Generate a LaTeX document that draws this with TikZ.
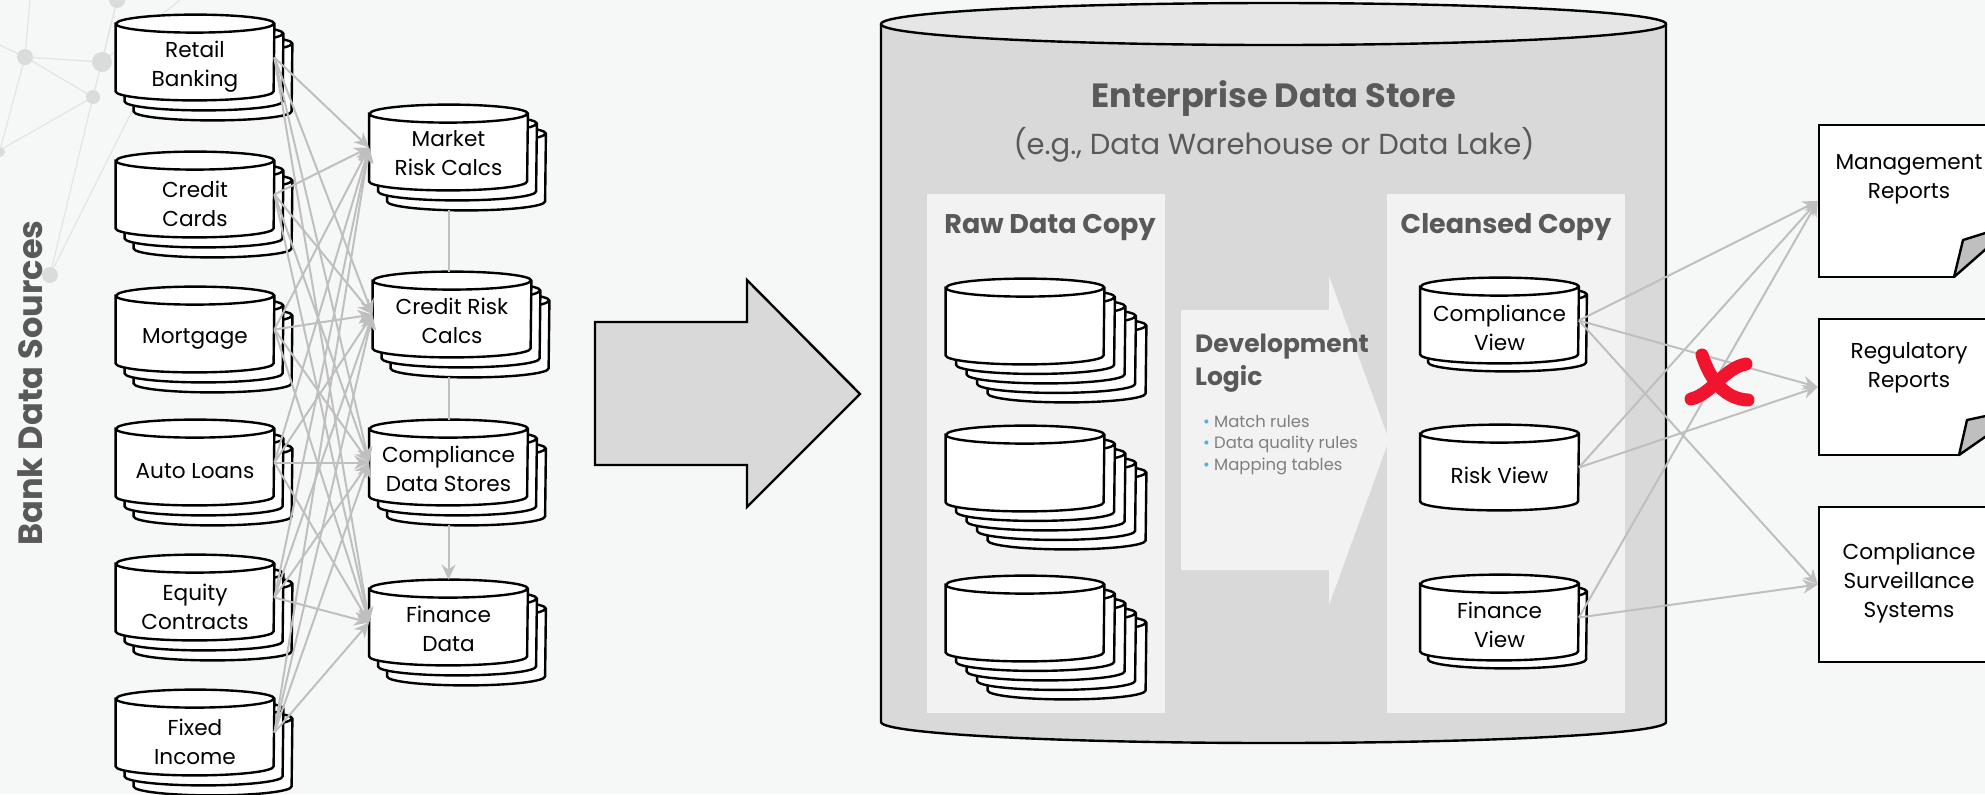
\documentclass[tikz,border=0pt]{standalone}
\usepackage{fontspec}
\setmainfont{Poppins}
\usetikzlibrary{arrows.meta}

\definecolor{pagebg}{HTML}{F6F8F7}
\definecolor{storegray}{HTML}{D9D9D9}
\definecolor{storetop}{HTML}{E6E6E6}
\definecolor{panelgray}{HTML}{F2F2F2}
\definecolor{headgray}{HTML}{595959}
\definecolor{notegray}{HTML}{7F7F7F}
\definecolor{linkgray}{HTML}{BFBFBF}
\definecolor{netgray}{HTML}{E3E5E4}
\definecolor{dotgray}{HTML}{DADCDB}
\definecolor{bulletblue}{HTML}{4FB3DC}
\definecolor{crossred}{HTML}{F0142F}

\tikzset{
  dbbox/.style={rectangle, minimum width=79pt, minimum height=42.5pt, inner sep=0pt},
  dbline/.style={draw, fill=white, line width=1.2pt},
  dbtext/.style={align=center, font=\fontsize{10.8}{14.5}\selectfont, inner sep=0pt},
  link/.style={draw=linkgray, line width=1pt, -{Stealth[length=7.5pt,width=7pt]}},
  plain/.style={draw=linkgray, line width=1pt},
  doc/.style={draw, fill=white, line width=1.2pt, minimum width=90.5pt, inner sep=0pt},
  fold/.style={draw, fill=linkgray, line width=1.2pt, line join=round},
  head/.style={font=\bfseries\fontsize{13.5}{16}\selectfont, text=headgray, inner sep=0pt},
}

% cylinder outline round a named dbbox node
\newcommand\dbshape[1]{%
  \draw[dbline] ([yshift=-4.5pt]#1.north west) -- ([yshift=4.5pt]#1.south west)
    arc[start angle=180, end angle=360, x radius=39.5pt, y radius=4.5pt]
    -- ([yshift=-4.5pt]#1.north east)
    arc[start angle=0, end angle=180, x radius=39.5pt, y radius=4.5pt] -- cycle
    ([yshift=-4.5pt]#1.north west) arc[start angle=180, end angle=360, x radius=39.5pt, y radius=4.5pt];}

\begin{document}
\begin{tikzpicture}[x=0.5pt,y=-0.5pt]
  \useasboundingbox (0,0) rectangle (1985,794);
  \clip (0,0) rectangle (1985,794);
  \fill[pagebg] (0,0) rectangle (1985,794);

  % faint network in the corner
  \begin{scope}[draw=netgray, line width=0.6pt]
    \draw (0,45) -- (25,57) -- (102,62) -- (180,0);
    \draw (30,0) -- (25,57) -- (93,97) -- (117,0);
    \draw (25,57) -- (0,150) -- (93,97) -- (50,275);
    \draw (117,0) -- (102,62);
    \draw (135,105) -- (50,275);
  \end{scope}
  \foreach \x/\y/\r in {25/57/8, 102/62/10, 93/97/7, 117/0/8, 0/152/5, 50/275/8}
    \fill[dotgray] (\x,\y) circle[radius=\r];

  \node[rotate=90, font=\bfseries\fontsize{16.8}{18}\selectfont, text=headgray] (bds) at (30,383) {Bank Data Sources};

  % source systems
  \foreach \nm/\y/\txt in {rb/57.5/{Retail\\Banking}, cc/194.5/{Credit\\Cards}, mo/329.5/Mortgage,
      al/462.5/Auto Loans, ec/597.5/{Equity\\Contracts}, fi/732.5/{Fixed\\Income}}{
    \node[dbbox] (\nm-2) at (213,\y+20) {}; \dbshape{\nm-2}
    \node[dbbox] (\nm-1) at (204,\y+10) {}; \dbshape{\nm-1}
    \node[dbbox] (\nm) at (195,\y) {}; \dbshape{\nm}
    \node[dbtext] (\nm-t) at (195,\y+9) {\txt};
  }

  % downstream stores
  \foreach \nm/\x/\y/\txt in {mr/448.5/147.5/{Market\\Risk Calcs}, cr/452/314.5/{Credit Risk\\Calcs},
      cd/448.5/462.5/{Compliance\\Data Stores}, fd/448.5/622.5/{Finance\\Data}}{
    \node[dbbox] (\nm-2) at (\x+18,\y+20) {}; \dbshape{\nm-2}
    \node[dbbox] (\nm-1) at (\x+9,\y+10) {}; \dbshape{\nm-1}
    \node[dbbox] (\nm) at (\x,\y) {}; \dbshape{\nm}
    \node[dbtext] (\nm-t) at (\x,\y+6) {\txt};
  }

  \foreach \s in {rb,cc,mo,al,ec,fi}
    \foreach \t in {mr,cr,cd,fd}
      \draw[link] (\s.east) -- (\t.west);
  \draw[plain] (mr.south |- mr-2.south) -- (mr.south |- cr.north);
  \draw[plain] (mr.south |- cr-2.south) -- (mr.south |- cd.north);
  \draw[link] (cd.south |- cd-2.south) -- (fd.north);

  % big arrow
  \draw[fill=storegray, line width=1.2pt] (595,322) -- (747,322) -- (747,280) -- (860,394)
    -- (747,507) -- (747,465) -- (595,465) -- cycle;

  % enterprise store
  \fill[storegray] (881,24) rectangle (1666,722);
  \fill[storegray] (1273.5,722) ellipse[x radius=392.5, y radius=21];
  \draw[line width=1.2pt] (881,24) -- (881,722) arc[start angle=180, end angle=0, x radius=392.5, y radius=21]
    -- (1666,24);
  \draw[fill=storetop, line width=1.2pt] (1273.5,24) ellipse[x radius=392.5, y radius=21];

  \node[font=\bfseries\fontsize{16.8}{20}\selectfont, text=headgray] (eds) at (1274,99) {Enterprise Data Store};
  \node[font=\fontsize{14.5}{18}\selectfont, text=headgray] (eds-sub) at (1274,145) {(e.g., Data Warehouse or Data Lake)};

  \fill[panelgray] (927,194) rectangle (1165,713);
  \fill[panelgray] (1387,194) rectangle (1625,713);
  \fill[panelgray] (1181,310) -- (1329,310) -- (1329,276) -- (1389,440) -- (1329,605) -- (1329,570)
    -- (1181,570) -- cycle;

  \node[head] (raw-h) at (1050,227) {Raw Data Copy};
  \node[head] (cln-h) at (1506,227) {Cleansed Copy};
  \node[font=\bfseries\fontsize{12.5}{16.5}\selectfont, text=headgray, align=left, anchor=west] (dev) at (1188,363) {Development\\Logic};
  \node[font=\fontsize{8.2}{10.75}\selectfont, text=notegray, align=left, anchor=west] (dev-list) at (1196,445)
    {{\color{bulletblue}•} Match rules\\{\color{bulletblue}•} Data quality rules\\{\color{bulletblue}•} Mapping tables};

  % raw copies
  \foreach \y [count=\i] in {321.5,468.5,618.5}{
    \foreach \k in {4,3,2,1}{
      \node[dbbox] (raw\i-\k) at (1025+10.5*\k,\y+9.5*\k) {}; \dbshape{raw\i-\k}
    }
    \node[dbbox] (raw\i) at (1025,\y) {}; \dbshape{raw\i}
  }

  % cleansed views
  \node[dbbox] (cv-1) at (1507.5,328.5) {}; \dbshape{cv-1}
  \node[dbbox] (cv) at (1499.5,320.5) {}; \dbshape{cv}
  \node[dbtext] (cv-t) at (1499.5,328) {Compliance\\View};
  \node[dbbox] (rv) at (1499.5,467.5) {}; \dbshape{rv}
  \node[dbtext] (rv-t) at (1499.5,475) {Risk View};
  \node[dbbox] (fv-1) at (1507.5,625.5) {}; \dbshape{fv-1}
  \node[dbbox] (fv) at (1499.5,617.5) {}; \dbshape{fv}
  \node[dbtext] (fv-t) at (1499.5,625) {Finance\\View};

  % consumers
  \node[doc, minimum height=76pt] (mg) at (1909.5,201) {};
  \node[doc, minimum height=68pt] (rg) at (1909.5,387) {};
  \node[doc, minimum height=77.5pt] (cs) at (1909.5,584.5) {};
  \fill[pagebg] (1955,275.4) -- (1995,241) -- (1995,282) -- (1955,282) -- cycle;
  \draw[fold] (1954,277) -- (1963,240) -- (1995,230) -- (1995,241) -- cycle;
  \fill[pagebg] (1960,453.4) -- (1995,430) -- (1995,460) -- (1960,460) -- cycle;
  \draw[fold] (1959,455) -- (1967,420) -- (1995,414) -- (1995,430) -- cycle;
  \node[dbtext] (mg-t) at (1909,179.5) {Management\\Reports};
  \node[dbtext] (rg-t) at (1909,367.5) {Regulatory\\Reports};
  \node[dbtext] (cs-t) at (1909,583.5) {Compliance\\Surveillance\\Systems};

  \draw[link] (cv.east) -- (mg.west);
  \draw[link] (cv.east) -- (rg.west);
  \draw[link] (cv.east) -- (cs.west);
  \draw[link] (rv.east) -- (mg.west);
  \draw[link] (rv.east) -- (rg.west);
  \draw[link] (fv.east) -- (mg.west);
  \draw[link] (fv.east) -- (cs.west);

  % red cross
  \draw[crossred, line width=6.5pt, line cap=round] (1691,399) .. controls (1712,394) and (1724,368) .. (1746,364);
  \draw[crossred, line width=6.5pt, line cap=round] (1702,355) .. controls (1712,385) and (1728,399) .. (1748,400);
\end{tikzpicture}
\end{document}
